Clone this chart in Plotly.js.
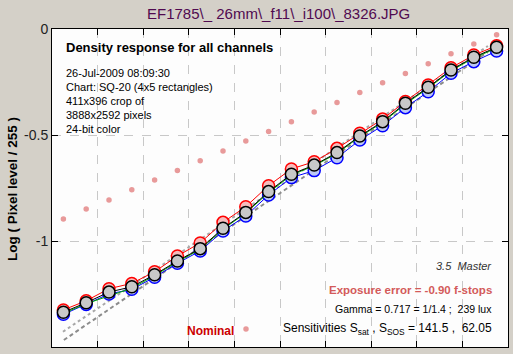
<!DOCTYPE html>
<html>
<head>
<meta charset="utf-8">
<script src="https://cdn.plot.ly/plotly-3.0.1.min.js"></script>
<style>html,body{margin:0;padding:0;background:#d4d0c8;}#chart{width:513px;height:354px;}</style>
</head>
<body>
<div id="chart"></div>
<script>
// Patch positions (x, no labels on axis)
const xPatch = [0.25,0.75,1.25,1.75,2.25,2.75,3.25,3.75,4.25,4.75,5.25,5.75,6.25,6.75,7.25,7.75,8.25,8.75,9.25,9.75];
// Log(pixel level/255) per channel
const redVals   = [-1.325,-1.282,-1.225,-1.200,-1.145,-1.071,-1.009,-0.912,-0.838,-0.739,-0.660,-0.626,-0.563,-0.492,-0.425,-0.342,-0.264,-0.183,-0.123,-0.079];
const greenVals = [-1.341,-1.296,-1.259,-1.223,-1.163,-1.098,-1.040,-0.944,-0.868,-0.772,-0.689,-0.645,-0.587,-0.508,-0.441,-0.354,-0.279,-0.197,-0.137,-0.090];
const blueVals  = [-1.346,-1.299,-1.250,-1.228,-1.171,-1.105,-1.047,-0.953,-0.882,-0.783,-0.701,-0.668,-0.607,-0.524,-0.456,-0.371,-0.296,-0.209,-0.154,-0.104];
const lumVals   = [-1.336,-1.291,-1.241,-1.216,-1.159,-1.094,-1.036,-0.940,-0.865,-0.767,-0.685,-0.642,-0.583,-0.505,-0.437,-0.350,-0.275,-0.193,-0.133,-0.086];
const nominalVals = [-0.896,-0.849,-0.807,-0.758,-0.712,-0.667,-0.621,-0.575,-0.528,-0.484,-0.437,-0.392,-0.347,-0.300,-0.253,-0.210,-0.164,-0.117,-0.071,-0.027];
// Gamma fit reference lines (end points)
const fitX1 = [0.24, 9.56];
const fitY1 = [-1.428, -0.080];
const fitX2 = [0.26, 9.56];
const fitY2 = [-1.467, -0.108];
const yTickVals = [0, -0.5, -1, -1.5];
const yTickText = ['0', '-0.5', '-1', '-1.5'];

const FONT = 'Arial, "Liberation Sans", sans-serif';

const traces = [
  {x: fitX1, y: fitY1, mode: 'lines', line: {color: '#a8a8a8', width: 2, dash: 'dot'}, hoverinfo: 'skip'},
  {x: fitX2, y: fitY2, mode: 'lines', line: {color: '#8c8c8c', width: 2, dash: '4px,3px'}, hoverinfo: 'skip'},
  {x: xPatch, y: nominalVals, mode: 'markers', marker: {color: '#e89a9a', size: 5.5, symbol: 'circle'}},
  {x: xPatch, y: redVals, mode: 'lines+markers', line: {color: '#ff0000', width: 1},
   marker: {size: 12, color: '#f6bcbc', line: {color: '#ff0000', width: 1.5}}},
  {x: xPatch, y: blueVals, mode: 'lines+markers', line: {color: '#0000ff', width: 1},
   marker: {size: 12, color: '#bcc8f6', line: {color: '#0000ff', width: 1.5}}},
  {x: xPatch, y: greenVals, mode: 'lines', line: {color: '#00b000', width: 1}},
  {x: xPatch, y: lumVals, mode: 'lines+markers', line: {color: '#000000', width: 1},
   marker: {size: 12, color: '#c8c8c8', line: {color: '#000000', width: 1.5}}}
];

function px2x(px){ return (px - 52) / 456; }
function px2y(py){ return (347 - py) / 318; }

const ann = [];
function addText(text, xpx, ypx, xanchor, font){
  ann.push({text: text, xref: 'paper', yref: 'paper', x: px2x(xpx), y: px2y(ypx),
            xanchor: xanchor, yanchor: 'middle', showarrow: false, font: font});
}
addText('EF1785\\_ 26mm\\_f11\\_i100\\_8326.JPG', 278, 14, 'center', {family: FONT, size: 15, color: '#500a50'});
addText('<b>Density response for all channels</b>', 64, 47, 'left', {family: FONT, size: 13, color: '#000'});
const infoLines = ['26-Jul-2009 08:09:30', 'Chart: SQ-20 (4x5 rectangles)', '411x396 crop of', '3888x2592 pixels', '24-bit color'];
const infoY = [72.7, 87.3, 101.3, 115.3, 129];
infoLines.forEach((t, i) => addText(t, 64, infoY[i], 'left', {family: FONT, size: 11, color: '#000'}));
addText('<i>3.5  Master</i>', 494, 265.7, 'right', {family: FONT, size: 11, color: '#333'});
addText('<b>Exposure error = -0.90 f-stops</b>', 494, 290, 'right', {family: FONT, size: 11.5, color: '#d35a5a'});
addText('Gamma = 0.717 = 1/1.4 ;  239 lux', 494, 309.3, 'right', {family: FONT, size: 10.5, color: '#000'});
addText('Sensitivities S<sub>sat</sub> , S<sub>SOS</sub> = 141.5 ,  62.05', 494, 329, 'right', {family: FONT, size: 12, color: '#000'});
addText('<b>Nominal</b>', 185, 331, 'left', {family: FONT, size: 12, color: '#cc0000'});
ann.push({text: '<b>Log ( Pixel level / 255 )</b>', xref: 'paper', yref: 'paper', x: px2x(12), y: px2y(189),
          xanchor: 'center', yanchor: 'middle', textangle: -90, showarrow: false,
          font: {family: FONT, size: 13.5, color: '#000'}});

const layout = {
  width: 513, height: 354,
  paper_bgcolor: '#d4d0c8', plot_bgcolor: '#fdfdfd',
  margin: {l: 52, r: 5, t: 29, b: 7, pad: 0},
  showlegend: false,
  font: {family: FONT},
  xaxis: {range: [0, 10], dtick: 1, tick0: 0, showticklabels: false, ticks: 'inside', ticklen: 6,
          tickcolor: '#000', showline: true, linecolor: '#000', linewidth: 1, mirror: 'ticks',
          showgrid: true, gridcolor: '#c8c8c8', griddash: 'dash', gridwidth: 1, zeroline: false, fixedrange: true},
  yaxis: {range: [-1.5, 0], tickvals: yTickVals, ticktext: yTickText, ticks: 'inside', ticklen: 6,
          tickcolor: '#000', showline: true, linecolor: '#000', linewidth: 1, mirror: 'ticks',
          tickfont: {family: FONT, size: 14, color: '#222'},
          showgrid: true, gridcolor: '#c8c8c8', griddash: 'dash', gridwidth: 1, zeroline: false, fixedrange: true},
  annotations: ann,
  shapes: [{type: 'circle', xref: 'paper', yref: 'paper', xsizemode: 'pixel', ysizemode: 'pixel',
            xanchor: px2x(246), yanchor: px2y(329), x0: -2.75, x1: 2.75, y0: -2.75, y1: 2.75,
            fillcolor: '#e89a9a', line: {width: 0}}]
};

Plotly.newPlot('chart', traces, layout, {staticPlot: true, displayModeBar: false});
</script>
</body>
</html>
